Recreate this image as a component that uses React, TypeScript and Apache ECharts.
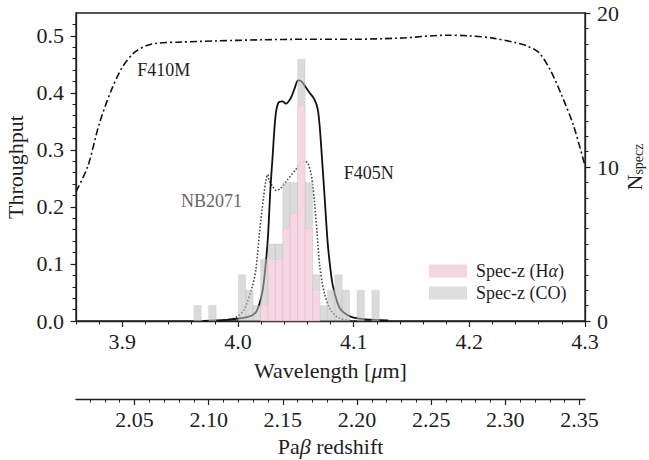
import React, { useEffect, useRef } from "react";
import * as echarts from "echarts";

const FONT = "Liberation Serif, serif";
const INK = "#1e1e1e";

// Pa-beta rest wavelength (micron) used for the secondary redshift axis
const PA_BETA = 1.28216;
const WL_MIN = 3.86;
const WL_MAX = 4.3;

// Tick values
const wlMajorTicks = [3.9, 4.0, 4.1, 4.2, 4.3];
const wlMinorTicks = [3.86, 3.88, 3.92, 3.94, 3.96, 3.98, 4.02, 4.04, 4.06, 4.08, 4.12, 4.14, 4.16, 4.18, 4.22, 4.24, 4.26, 4.28];
const zMajorTicks = [2.05, 2.1, 2.15, 2.2, 2.25, 2.3, 2.35];
const zMinorTicks = [2.02, 2.03, 2.04, 2.06, 2.07, 2.08, 2.09, 2.11, 2.12, 2.13, 2.14, 2.16, 2.17, 2.18, 2.19, 2.21, 2.22, 2.23, 2.24, 2.26, 2.27, 2.28, 2.29, 2.31, 2.32, 2.33, 2.34];
const tMajorTicks = [0, 0.1, 0.2, 0.3, 0.4, 0.5];
const tMinorTicks = [0.02, 0.04, 0.06, 0.08, 0.12, 0.14, 0.16, 0.18, 0.22, 0.24, 0.26, 0.28, 0.32, 0.34, 0.36, 0.38, 0.42, 0.44, 0.46, 0.48, 0.52];
const nMajorTicks = [0, 10, 20];
const nMinorTicks = [1, 2, 3, 4, 5, 6, 7, 8, 9, 11, 12, 13, 14, 15, 16, 17, 18, 19];

// Filter throughput curves (wavelength in micron, throughput)
const f410mWl = [3.86, 3.87, 3.88, 3.89, 3.9, 3.91, 3.92, 3.93, 3.95, 3.98, 4.02, 4.06, 4.1, 4.14, 4.18, 4.2, 4.22, 4.24, 4.25, 4.26, 4.27, 4.28, 4.29, 4.3];
const f410mT = [0.227, 0.27, 0.345, 0.402, 0.445, 0.47, 0.482, 0.487, 0.489, 0.491, 0.493, 0.494, 0.494, 0.496, 0.501, 0.5, 0.496, 0.488, 0.482, 0.471, 0.44, 0.395, 0.343, 0.272];

const f405nWl = [3.97, 3.99, 4.0, 4.01, 4.016, 4.021, 4.024, 4.026, 4.028, 4.03, 4.0325, 4.035, 4.0385, 4.0414, 4.0457, 4.049, 4.052, 4.0545, 4.0572, 4.0616, 4.066, 4.0689, 4.0705, 4.0718, 4.0747, 4.0776, 4.08, 4.082, 4.086, 4.0892, 4.095, 4.1, 4.11, 4.13];
const f405nT = [0.0, 0.002, 0.004, 0.008, 0.017, 0.05, 0.1, 0.15, 0.23, 0.29, 0.36, 0.383, 0.385, 0.381, 0.391, 0.408, 0.422, 0.421, 0.414, 0.401, 0.389, 0.372, 0.345, 0.31, 0.224, 0.136, 0.09, 0.062, 0.032, 0.019, 0.01, 0.006, 0.003, 0.001];

const nb2071Wl = [3.975, 3.99, 3.998, 4.0053, 4.0126, 4.0155, 4.0184, 4.0222, 4.0245, 4.0258, 4.027, 4.03, 4.0328, 4.0372, 4.043, 4.0502, 4.0544, 4.0575, 4.0603, 4.0632, 4.0645, 4.066, 4.0685, 4.0705, 4.0747, 4.0805, 4.0877, 4.1];
const nb2071T = [0.0, 0.002, 0.006, 0.02, 0.062, 0.09, 0.15, 0.218, 0.25, 0.257, 0.246, 0.236, 0.229, 0.233, 0.248, 0.266, 0.277, 0.28, 0.277, 0.258, 0.24, 0.212, 0.152, 0.1, 0.049, 0.018, 0.005, 0.0];

// Spec-z histograms (bin start in redshift, counts)
const BIN_WIDTH = 0.005;
const coBinStart = [2.09, 2.1, 2.12, 2.125, 2.13, 2.135, 2.14, 2.145, 2.15, 2.155, 2.16, 2.165, 2.17, 2.175, 2.18, 2.185, 2.19, 2.2, 2.21];
const coCounts = [1, 1, 3, 2, 1, 4, 5, 5, 9, 9, 17, 9, 3, 1, 2, 3, 2, 2, 2];
const haBinStart = [2.135, 2.14, 2.145, 2.15, 2.155, 2.16, 2.165, 2.17];
const haCounts = [1, 4, 4, 6, 7, 14, 6, 2];

// Text annotations (anchor in wavelength / throughput)
const annoText = ["F410M", "NB2071", "F405N"];
const annoWl = [3.913, 3.9508, 4.0914];
const annoT = [0.44, 0.21, 0.26];
const annoColor = [INK, "#666666", INK];

const HA_NAME = "Spec-z (H\u03b1)";
const CO_NAME = "Spec-z (CO)";

const zip = (a: number[], b: number[]) => a.map((v, i) => [v, b[i]]);

const lineAxis = { lineStyle: { color: INK, width: 1.3 } };
const labelStyle = { fontFamily: FONT, fontSize: 22, color: INK };

function histSeries(name: string, starts: number[], counts: number[], fill: string, stroke: string, z: number) {
  return {
    type: "custom",
    name,
    xAxisIndex: 1,
    yAxisIndex: 1,
    z,
    silent: true,
    itemStyle: { color: fill },
    encode: { x: 0, y: 1 },
    data: zip(starts, counts),
    renderItem: (_params: any, api: any) => {
      const z0 = api.value(0);
      const n = api.value(1);
      const p0 = api.coord([z0, 0]);
      const p1 = api.coord([z0 + BIN_WIDTH, n]);
      return {
        type: "rect",
        shape: { x: p0[0], y: p1[1], width: p1[0] - p0[0], height: p0[1] - p1[1] },
        style: { fill, stroke, lineWidth: 0.6 },
      };
    },
  };
}

export default function App() {
  const ref = useRef<HTMLDivElement>(null);

  useEffect(() => {
    if (!ref.current) return;
    const chart = echarts.init(ref.current, undefined, { renderer: "svg" });
    const zMin = WL_MIN / PA_BETA - 1;
    const zMax = WL_MAX / PA_BETA - 1;

    const option: any = {
      animation: false,
      backgroundColor: "#ffffff",
      grid: {
        left: 76,
        top: 13,
        width: 509,
        height: 308,
        show: true,
        borderColor: INK,
        borderWidth: 1.3,
        backgroundColor: "transparent",
        outerBoundsMode: "none",
        containLabel: false,
      },
      legend: {
        data: [
          { name: HA_NAME, itemStyle: { color: "#f2d6e1" } },
          { name: CO_NAME, itemStyle: { color: "#dddddd" } },
        ],
        orient: "vertical",
        left: 429,
        top: 262,
        padding: 0,
        icon: "rect",
        itemWidth: 38,
        itemHeight: 13,
        itemGap: 4,
        selectedMode: false,
        formatter: (n: string) => n.replace("\u03b1", "{i|\u03b1}"),
        textStyle: {
          fontFamily: FONT,
          fontSize: 18,
          color: INK,
          padding: [0, 0, 0, 4],
          rich: { i: { fontFamily: FONT, fontSize: 18, fontStyle: "italic", color: INK } },
        },
      },
      xAxis: [
        {
          type: "value",
          position: "bottom",
          min: WL_MIN,
          max: WL_MAX,
          axisLine: { onZero: false, ...lineAxis },
          axisTick: { customValues: wlMajorTicks, length: 6, lineStyle: { color: INK, width: 1.2 } },
          axisLabel: { customValues: wlMajorTicks, formatter: (v: number) => v.toFixed(1), margin: 9, ...labelStyle },
          splitLine: { show: false },
          name: "Wavelength [{i|\u03bc}m]",
          nameLocation: "middle",
          nameGap: 38,
          nameMoveOverlap: false,
          nameTextStyle: { ...labelStyle, rich: { i: { ...labelStyle, fontStyle: "italic" } } },
        },
        {
          type: "value",
          position: "bottom",
          offset: 78,
          min: zMin,
          max: zMax,
          axisLine: { onZero: false, ...lineAxis },
          axisTick: { customValues: zMajorTicks, length: 6, lineStyle: { color: INK, width: 1.2 } },
          axisLabel: { customValues: zMajorTicks, formatter: (v: number) => v.toFixed(2), margin: 9, ...labelStyle },
          splitLine: { show: false },
          name: "Pa{i|\u03b2} redshift",
          nameLocation: "middle",
          nameGap: 36,
          nameMoveOverlap: false,
          nameTextStyle: { ...labelStyle, rich: { i: { ...labelStyle, fontStyle: "italic" } } },
        },
        {
          type: "value",
          position: "bottom",
          min: WL_MIN,
          max: WL_MAX,
          axisLine: { show: false, onZero: false },
          axisTick: { customValues: wlMinorTicks, length: 3.5, lineStyle: { color: INK, width: 1 } },
          axisLabel: { show: false },
          splitLine: { show: false },
        },
        {
          type: "value",
          position: "bottom",
          offset: 78,
          min: zMin,
          max: zMax,
          axisLine: { show: false, onZero: false },
          axisTick: { customValues: zMinorTicks, length: 3.5, lineStyle: { color: INK, width: 1 } },
          axisLabel: { show: false },
          splitLine: { show: false },
        },
      ],
      yAxis: [
        {
          type: "value",
          position: "left",
          min: 0,
          max: 0.54,
          axisLine: { show: true, onZero: false, ...lineAxis },
          axisTick: { show: true, customValues: tMajorTicks, length: 5.5, lineStyle: { color: INK, width: 1.2 } },
          axisLabel: { customValues: tMajorTicks, formatter: (v: number) => v.toFixed(1), margin: 12, ...labelStyle },
          splitLine: { show: false },
          name: "Throughput",
          nameLocation: "middle",
          nameGap: 50,
          nameRotate: 90,
          nameMoveOverlap: false,
          nameTextStyle: { ...labelStyle },
        },
        {
          type: "value",
          position: "right",
          min: 0,
          max: 20,
          axisLine: { show: true, onZero: false, ...lineAxis },
          axisTick: { show: true, customValues: nMajorTicks, length: 5.5, lineStyle: { color: INK, width: 1.2 } },
          axisLabel: { customValues: nMajorTicks, margin: 12, ...labelStyle },
          splitLine: { show: false },
          name: "{n|N}{s|specz}",
          nameLocation: "middle",
          nameGap: 38,
          nameRotate: 90,
          nameMoveOverlap: false,
          nameTextStyle: {
            ...labelStyle,
            rich: {
              n: { ...labelStyle, lineHeight: 22 },
              s: { fontFamily: FONT, fontSize: 14, color: INK, verticalAlign: "bottom", lineHeight: 13 },
            },
          },
        },
        {
          type: "value",
          position: "left",
          min: 0,
          max: 0.54,
          axisLine: { show: false, onZero: false },
          axisTick: { show: true, customValues: tMinorTicks, length: 3.5, lineStyle: { color: INK, width: 1 } },
          axisLabel: { show: false },
          splitLine: { show: false },
        },
        {
          type: "value",
          position: "right",
          min: 0,
          max: 20,
          axisLine: { show: false, onZero: false },
          axisTick: { show: true, customValues: nMinorTicks, length: 3.5, lineStyle: { color: INK, width: 1 } },
          axisLabel: { show: false },
          splitLine: { show: false },
        },
      ],
      series: [
        {
          type: "line",
          name: "F410M",
          xAxisIndex: 0,
          yAxisIndex: 0,
          data: zip(f410mWl, f410mT),
          showSymbol: false,
          smooth: 0.3,
          z: 1,
          lineStyle: { color: "#111111", width: 1.6, type: [7, 3, 2, 3] },
        },
        {
          type: "line",
          name: "NB2071",
          xAxisIndex: 0,
          yAxisIndex: 0,
          data: zip(nb2071Wl, nb2071T),
          showSymbol: false,
          smooth: 0.3,
          z: 1,
          lineStyle: { color: "#4a4a4a", width: 1.6, type: [1.6, 1.8] },
        },
        {
          type: "line",
          name: "F405N",
          xAxisIndex: 0,
          yAxisIndex: 0,
          data: zip(f405nWl, f405nT),
          showSymbol: false,
          smooth: 0.3,
          z: 1,
          lineStyle: { color: "#111111", width: 1.8 },
        },
        histSeries(CO_NAME, coBinStart, coCounts, "rgba(190,190,190,0.56)", "rgba(170,170,170,0.35)", 3),
        histSeries(HA_NAME, haBinStart, haCounts, "rgba(252,214,230,0.78)", "rgba(225,175,198,0.45)", 4),
      ],
    };

    chart.setOption(option);

    const graphics = annoText.map((t, i) => {
      const p = chart.convertToPixel({ xAxisIndex: 0, yAxisIndex: 0 } as any, [annoWl[i], annoT[i]]) as number[];
      return {
        type: "text",
        x: p[0],
        y: p[1],
        z: 10,
        style: { text: t, fill: annoColor[i], font: `18px ${FONT}`, textAlign: "left", textVerticalAlign: "middle" },
      };
    });
    chart.setOption({ graphic: graphics });

    return () => chart.dispose();
  }, []);

  return <div ref={ref} style={{ position: "fixed", left: 0, top: 0, width: 649, height: 460 }} />;
}
